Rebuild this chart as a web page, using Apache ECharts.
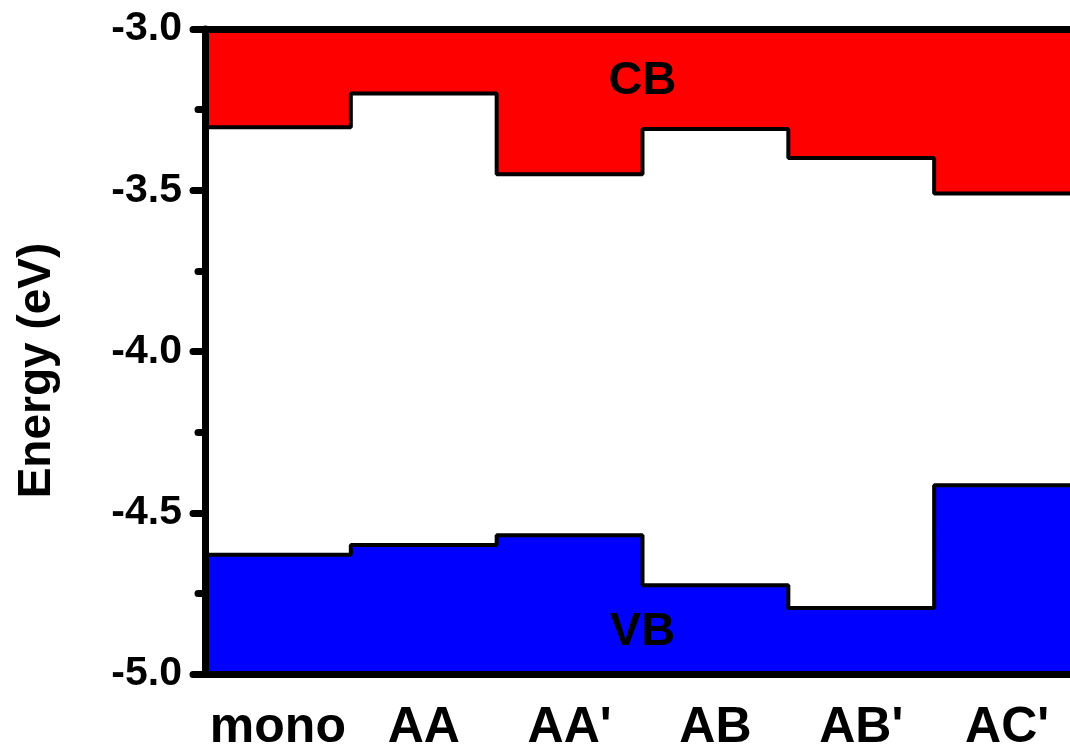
<!DOCTYPE html>
<html>
<head>
<meta charset="utf-8">
<script src="https://cdn.jsdelivr.net/npm/echarts@6/dist/echarts.min.js"></script>
<style>
html,body{margin:0;padding:0;background:#fff;}
#chart{width:1070px;height:755px;}
</style>
</head>
<body>
<div id="chart"></div>
<script>
const categories = ['mono', 'AA', "AA'", 'AB', "AB'", "AC'"];
const cbValues = [-3.305, -3.20, -3.45, -3.31, -3.40, -3.51];
const vbValues = [-4.63, -4.60, -4.57, -4.725, -4.795, -4.415];
const yMin = -5.0, yMax = -3.0, yStep = 0.5;
const bandNames = ['CB', 'VB'];
const bandLabelY = [-3.16, -4.87];

function stepData(vals) {
  const d = [];
  vals.forEach((v, i) => { d.push([i, v]); d.push([i + 1, v]); });
  return d;
}

const FONT = "'Liberation Sans', Arial, sans-serif";
const chart = echarts.init(document.getElementById('chart'), null, {renderer: 'canvas'});

function bandLabel(text, y) {
  return {
    symbol: 'circle', symbolSize: 0, silent: true,
    label: {show: true, position: 'inside', formatter: text, fontSize: 47, fontWeight: 'bold', color: '#000', fontFamily: FONT},
    data: [{coord: [categories.length / 2, y]}]
  };
}

chart.setOption({
  animation: false,
  backgroundColor: '#ffffff',
  grid: {left: 205, top: 29, width: 875, height: 645, containLabel: false, outerBoundsMode: 'none'},
  xAxis: [
    {type: 'value', min: 0, max: categories.length, position: 'bottom', z: 10,
     axisLine: {show: true, lineStyle: {color: '#000', width: 7}},
     axisTick: {show: false}, axisLabel: {show: false}, splitLine: {show: false}},
    {type: 'category', data: categories, position: 'bottom', boundaryGap: true,
     axisLine: {show: false}, axisTick: {show: false}, splitLine: {show: false},
     axisLabel: {show: true, interval: 0, margin: 29, fontSize: 50, fontWeight: 'bold', color: '#000', fontFamily: FONT}},
    {type: 'value', min: 0, max: categories.length, position: 'top', z: 10,
     axisLine: {show: true, lineStyle: {color: '#000', width: 7}},
     axisTick: {show: false}, axisLabel: {show: false}, splitLine: {show: false}}
  ],
  yAxis: {
    type: 'value', min: yMin, max: yMax, interval: yStep, z: 10,
    name: 'Energy (eV)', nameLocation: 'middle', nameGap: 145, nameRotate: 90,
    nameTextStyle: {fontSize: 46, fontWeight: 'bold', color: '#000', fontFamily: FONT, padding: [0, 38, 0, 0]},
    axisLine: {show: true, lineStyle: {color: '#000', width: 7}},
    axisTick: {show: true, inside: false, length: 12, lineStyle: {color: '#000', width: 7, cap: 'round'}},
    minorTick: {show: true, splitNumber: 2, length: 7, lineStyle: {color: '#000', width: 7, cap: 'round'}},
    splitLine: {show: false}, minorSplitLine: {show: false},
    axisLabel: {margin: 23, fontSize: 41, fontWeight: 'bold', color: '#000', fontFamily: FONT,
      formatter: v => v.toFixed(1)}
  },
  series: [
    {name: 'CB', type: 'line', xAxisIndex: 0, data: stepData(cbValues), symbol: 'none', z: 3,
     lineStyle: {color: '#000', width: 4}, areaStyle: {color: '#ff0000', opacity: 1, origin: 'end'},
     markPoint: bandLabel(bandNames[0], bandLabelY[0])},
    {name: 'VB', type: 'line', xAxisIndex: 0, data: stepData(vbValues), symbol: 'none', z: 3,
     lineStyle: {color: '#000', width: 4}, areaStyle: {color: '#0000ff', opacity: 1, origin: 'start'},
     markPoint: bandLabel(bandNames[1], bandLabelY[1])}
  ]
});
</script>
</body>
</html>
